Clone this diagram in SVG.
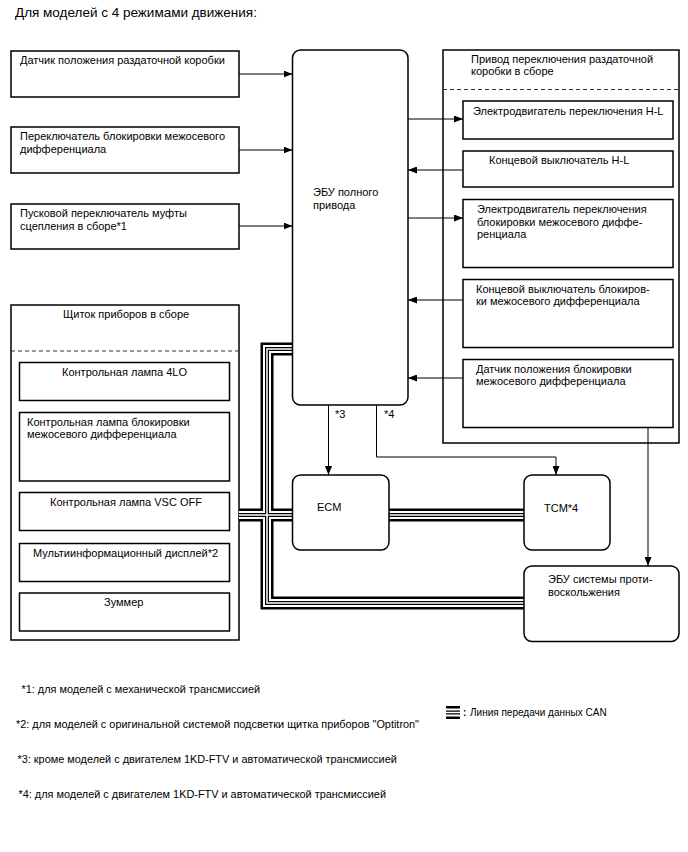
<svg xmlns="http://www.w3.org/2000/svg" xmlns:xlink="http://www.w3.org/1999/xlink" width="688" height="852" viewBox="0 0 688 852">
<style>
text{font-family:"Liberation Sans",Arial,sans-serif;font-size:11px;fill:#000}
.title{font-size:13.5px}
.fn{font-size:10.9px}
.lg{font-size:10px}
.box{fill:#fff;stroke:#000;stroke-width:1.5}
.rbox{fill:#fff;stroke:#000;stroke-width:1.5}
.dash{fill:none;stroke:#333;stroke-width:1;stroke-dasharray:4 3}
.wire{fill:none;stroke:#000;stroke-width:1}
.arr{marker-end:url(#ah)}
.b1{fill:none;stroke:#000;stroke-width:13;stroke-linejoin:miter}
.b2{fill:none;stroke:#fff;stroke-width:8;stroke-linejoin:miter}
.b3{fill:none;stroke:#000;stroke-width:4;stroke-linejoin:miter}
.b4{fill:none;stroke:#fff;stroke-width:1.5;stroke-linejoin:miter}
</style>
<defs>
<marker id="ah" markerUnits="userSpaceOnUse" markerWidth="9" markerHeight="7" refX="9" refY="3.5" orient="auto">
<path d="M0,0 L9,3.5 L0,7 z" fill="#000"/>
</marker>
<g id="bus">
<path d="M292.5,349 H267 V603 H524"/>
<path d="M239,515 H292.5"/>
<path d="M389,515 H524"/>
</g>
<path id="legbus" d="M446,712.5 H460"/>
</defs>

<text class="title" x="15" y="17">Для моделей с 4 режимами движения:</text>

<g id="transfer-actuator">
<rect class="box" x="443" y="50" width="236" height="393"/>
<text x="471" y="62.5">Привод переключения раздаточной</text>
<text x="471" y="75">коробки в сборе</text>
<line class="dash" x1="443" y1="89.5" x2="679" y2="89.5"/>
</g>
<g id="combination-meter">
<rect class="box" x="11" y="305" width="228" height="335"/>
<text x="63" y="317.5">Щиток приборов в сборе</text>
<line class="dash" x1="11" y1="351" x2="239" y2="351"/>
</g>

<g id="connectors">
<g id="can-bus">
<use xlink:href="#bus" class="b1"/>
<use xlink:href="#bus" class="b2"/>
<use xlink:href="#bus" class="b3"/>
<use xlink:href="#bus" class="b4"/>
</g>
<line class="wire arr" x1="239" y1="74" x2="292.5" y2="74"/>
<line class="wire arr" x1="239" y1="150" x2="292.5" y2="150"/>
<line class="wire arr" x1="239" y1="226" x2="292.5" y2="226"/>
<line class="wire arr" x1="408" y1="119" x2="463" y2="119"/>
<line class="wire arr" x1="463" y1="170" x2="408" y2="170"/>
<line class="wire arr" x1="408" y1="218" x2="463" y2="218"/>
<line class="wire arr" x1="463" y1="300" x2="408" y2="300"/>
<line class="wire arr" x1="463" y1="378" x2="408" y2="378"/>
<line class="wire arr" x1="328.5" y1="405" x2="328.5" y2="475"/>
<polyline class="wire arr" points="376.5,405 376.5,457 556,457 556,475"/>
<line class="wire arr" x1="648" y1="427" x2="648" y2="566"/>
<text x="335" y="418">*3</text>
<text x="384" y="418">*4</text>
</g>

<g id="tc-position-sensor">
<rect class="box" x="11" y="51" width="228" height="46"/>
<text x="20" y="64">Датчик положения раздаточной коробки</text>
</g>
<g id="diff-lock-switch">
<rect class="box" x="11" y="127" width="228" height="46"/>
<text x="20" y="140">Переключатель блокировки межосевого</text>
<text x="20" y="152.5">дифференциала</text>
</g>
<g id="clutch-start-switch">
<rect class="box" x="11" y="204" width="228" height="45"/>
<text x="20" y="217">Пусковой переключатель муфты</text>
<text x="20" y="229.5">сцепления в сборе*1</text>
</g>

<g id="awd-ecu">
<rect class="rbox" x="292.5" y="50" width="115.5" height="355" rx="8"/>
<text x="313" y="196">ЭБУ полного</text>
<text x="313" y="208.5">привода</text>
</g>

<g id="hl-motor">
<rect class="box" x="463" y="101" width="210" height="38"/>
<text x="473" y="114.5">Электродвигатель переключения H-L</text>
</g>
<g id="hl-switch">
<rect class="box" x="463" y="151" width="210" height="36"/>
<text x="489" y="164">Концевой выключатель H-L</text>
</g>
<g id="diff-lock-motor">
<rect class="box" x="463" y="199.5" width="210" height="68"/>
<text x="477" y="213">Электродвигатель переключения</text>
<text x="477" y="225.5">блокировки межосевого диффе-</text>
<text x="477" y="238">ренциала</text>
</g>
<g id="diff-lock-limit-switch">
<rect class="box" x="463" y="279.5" width="210" height="68"/>
<text x="476" y="292.5">Концевой выключатель блокиров-</text>
<text x="476" y="305">ки межосевого дифференциала</text>
</g>
<g id="diff-lock-position-sensor">
<rect class="box" x="463" y="359.5" width="210" height="68"/>
<text x="476" y="372.5">Датчик положения блокировки</text>
<text x="476" y="385">межосевого дифференциала</text>
</g>

<g id="lamp-4lo">
<rect class="box" x="19.5" y="362.5" width="210" height="38"/>
<text x="62" y="376">Контрольная лампа 4LO</text>
</g>
<g id="lamp-diff-lock">
<rect class="box" x="19.5" y="412.5" width="210" height="68.5"/>
<text x="27" y="425.5">Контрольная лампа блокировки</text>
<text x="27" y="438">межосевого дифференциала</text>
</g>
<g id="lamp-vsc-off">
<rect class="box" x="19.5" y="492.5" width="210" height="38"/>
<text x="50" y="505.5">Контрольная лампа VSC OFF</text>
</g>
<g id="multi-display">
<rect class="box" x="19.5" y="543.5" width="210" height="38"/>
<text x="33" y="556.5">Мультиинформационный дисплей*2</text>
</g>
<g id="buzzer">
<rect class="box" x="19.5" y="593" width="210" height="38"/>
<text x="104" y="606">Зуммер</text>
</g>

<g id="ecm">
<rect class="rbox" x="292.5" y="475" width="96.5" height="75" rx="8"/>
<text x="317" y="511">ECM</text>
</g>
<g id="tcm">
<rect class="rbox" x="524" y="475" width="86" height="75" rx="8"/>
<text x="544" y="511.5">TCM*4</text>
</g>
<g id="skid-control-ecu">
<rect class="rbox" x="524" y="566" width="155" height="75.5" rx="8"/>
<text x="548" y="583">ЭБУ системы проти-</text>
<text x="548" y="595.5">воскольжения</text>
</g>

<g id="footnotes">
<text class="fn" x="21.5" y="693">*1: для моделей с механической трансмиссией</text>
<text class="fn" x="16" y="728">*2: для моделей с оригинальной системой подсветки щитка приборов "Optitron"</text>
<text class="fn" x="17.5" y="763">*3: кроме моделей с двигателем 1KD-FTV и автоматической трансмиссией</text>
<text class="fn" x="18.5" y="798">*4: для моделей с двигателем 1KD-FTV и автоматической трансмиссией</text>
</g>

<g id="legend">
<use xlink:href="#legbus" class="b1"/>
<use xlink:href="#legbus" class="b2"/>
<use xlink:href="#legbus" class="b3"/>
<use xlink:href="#legbus" class="b4"/>
<text class="lg" x="463" y="716" font-weight="bold">:</text>
<text class="lg" x="470" y="716">Линия передачи данных CAN</text>
</g>
</svg>
